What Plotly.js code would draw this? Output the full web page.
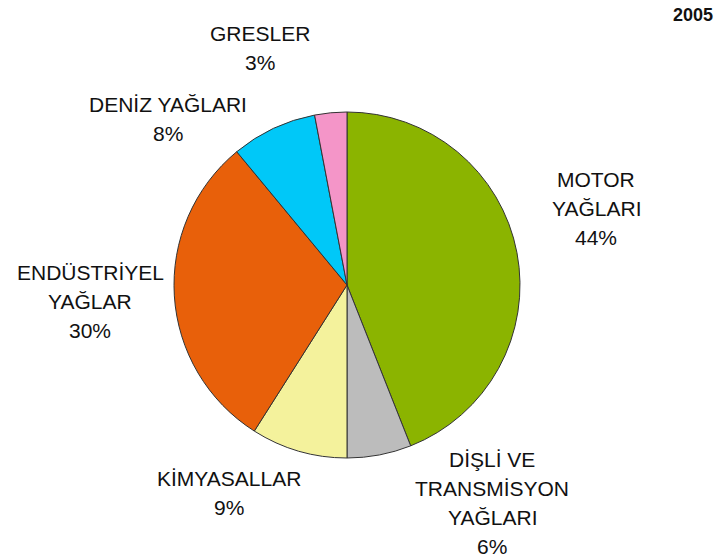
<!DOCTYPE html>
<html>
<head>
<meta charset="utf-8">
<script src="https://cdn.plot.ly/plotly-3.0.1.min.js"></script>
<style>html,body{margin:0;padding:0;background:#fff;}#chart{width:717px;height:560px;}</style>
</head>
<body>
<div id="chart"></div>
<script>
var categories = ["MOTOR<br>YAĞLARI", "DİŞLİ VE<br>TRANSMİSYON<br>YAĞLARI", "KİMYASALLAR", "ENDÜSTRİYEL<br>YAĞLAR", "DENİZ YAĞLARI", "GRESLER"];
var values = [44, 6, 9, 30, 8, 3];
var colors = ["#8bb400", "#bcbcbc", "#f4f29c", "#e8600a", "#00c8f8", "#f495c8"];
var yearLabel = "2005";

// label anchor positions (paper px, centre of first line)
var labelPos = [[596, 179], [492, 459], [229, 478], [90, 272], [168, 104], [260, 33]];

var W = 717, H = 560, lineH = 29;
var annotations = [];
categories.forEach(function (lab, i) {
  var lines = lab.split("<br>").concat([values[i] + "%"]);
  lines.forEach(function (ln, j) {
    annotations.push({
      xref: "paper", yref: "paper",
      x: labelPos[i][0] / W, y: 1 - (labelPos[i][1] + j * lineH) / H,
      xanchor: "center", yanchor: "middle",
      text: ln, showarrow: false,
      font: {family: "Liberation Sans, Arial, sans-serif", size: 21, color: "#111"}
    });
  });
});
annotations.push({
  xref: "paper", yref: "paper", x: 715 / W, y: 1 - 15 / H,
  xanchor: "right", yanchor: "middle", text: "<b>" + yearLabel + "</b>", showarrow: false,
  font: {family: "Liberation Sans, Arial, sans-serif", size: 18, color: "#111"}
});

var cx = 347, cy = 285, r = 173;
var trace = {
  type: "pie",
  labels: categories,
  values: values,
  sort: false,
  direction: "clockwise",
  rotation: 0,
  textinfo: "none",
  hoverinfo: "label+percent",
  marker: {colors: colors, line: {color: "#333333", width: 1}},
  domain: {x: [(cx - r) / W, (cx + r) / W], y: [(H - cy - r) / H, (H - cy + r) / H]},
  showlegend: false
};

Plotly.newPlot("chart", [trace], {
  width: W, height: H,
  margin: {l: 0, r: 0, t: 0, b: 0},
  paper_bgcolor: "#ffffff",
  showlegend: false,
  annotations: annotations
}, {displayModeBar: false});
</script>
</body>
</html>
